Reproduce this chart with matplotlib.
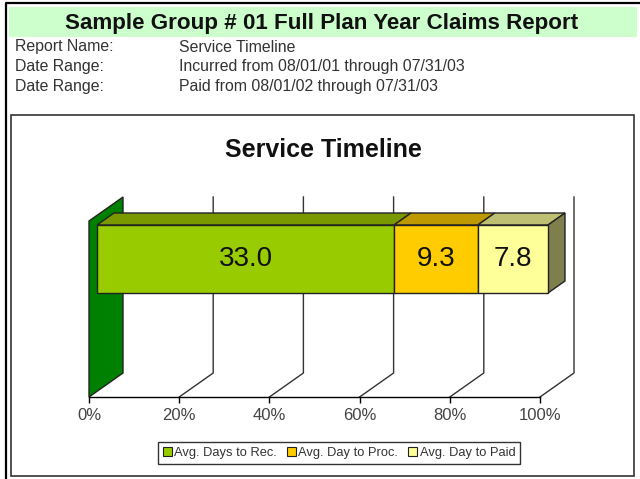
import matplotlib
matplotlib.use("Agg")
import matplotlib.pyplot as plt
from matplotlib.lines import Line2D
from matplotlib.patches import Polygon, Rectangle

plt.rcParams['font.family'] = ['Liberation Sans', 'DejaVu Sans']

report_title = "Sample Group # 01 Full Plan Year Claims Report"
info_names = ["Report Name:", "Date Range:", "Date Range:"]
info_values = ["Service Timeline",
               "Incurred from 08/01/01 through 07/31/03",
               "Paid from 08/01/02 through 07/31/03"]
chart_title = "Service Timeline"
categories = ["Avg. Days to Rec.", "Avg. Day to Proc.", "Avg. Day to Paid"]
days = [33.0, 9.3, 7.8]
ticks = [0, 20, 40, 60, 80, 100]

front_colors = ["#99CC00", "#FFCC00", "#FFFF99"]
top_colors = ["#7A9900", "#BF9900", "#BFBF73"]
side_color = "#7F7F4D"
EDGE = "#222222"

W, H = 640, 479
fig = plt.figure(figsize=(W / 100, H / 100), dpi=100)


def fx(px):
    return px / W


def fy(px):
    return 1 - px / H


# page furniture, in pixels from the top left
fig.add_artist(Line2D([fx(5.5), fx(5.5), 1], [0, fy(3), fy(3)], color="black", lw=1.6,
                      transform=fig.transFigure, zorder=-3))
fig.add_artist(Rectangle((fx(9), fy(37)), fx(628), 30 / H, fc="#CCFFCC", ec="none",
                         transform=fig.transFigure, zorder=-2))
fig.add_artist(Rectangle((fx(11), fy(476)), fx(623), 361 / H, fc="white", ec="#333333", lw=1.2,
                         transform=fig.transFigure, zorder=-2))
fig.text(fx(322), fy(23), report_title, ha="center", va="center", fontsize=16.1, fontweight="bold",
         color="#111111")
for i in range(3):
    y = fy(47 + i * 20)
    fig.text(fx(15), y, info_names[i], va="center", fontsize=11.4, color="#333333")
    fig.text(fx(179), y, info_values[i], va="center", fontsize=11.4, color="#333333")
fig.text(fx(323), fy(150), chart_title, ha="center", va="center", fontsize=18, fontweight="bold",
         color="#111111")

# axis covers the floor front edge; y is pixels above the floor
ax = fig.add_axes([fx(89), fy(397), 451 / W, 200 / H])
ax.set_xlim(0, 100)
ax.set_ylim(0, 200)
ax.patch.set_visible(False)
for s in ["top", "left", "right"]:
    ax.spines[s].set_visible(False)
ax.spines["bottom"].set_linewidth(1.0)
ax.set_yticks([])
ax.set_xticks(ticks)
ax.set_xticklabels([str(t) + "%" for t in ticks], fontsize=12, color="#444444")
ax.tick_params(axis="x", length=4, width=1.0, pad=4)

depth_x = 34 / 4.51
depth_y = 24
wall_top = 176

# grid lines run back along the floor and up the back wall
for t in ticks[1:]:
    ax.plot([t, t + depth_x, t + depth_x], [0, depth_y, 200], color="#333333", lw=1.0,
            clip_on=False, zorder=1)

# left wall
ax.add_patch(Polygon([(0, 0), (depth_x, depth_y), (depth_x, 200), (0, wall_top)], closed=True,
                     fc="#008000", ec=EDGE, lw=1.0, clip_on=False, zorder=2))

# stacked bar
bar_x = 8 / 4.51
bar_dx = 17 / 4.51
bar_dy = 12
bar_low = 104
bar_high = 172
total = sum(days)
left = 0
handles = []
for i in range(len(days)):
    width = days[i] / total * 100
    x0 = left + bar_x
    x1 = x0 + width
    ax.add_patch(Polygon([(x0, bar_high), (x1, bar_high), (x1 + bar_dx, bar_high + bar_dy),
                          (x0 + bar_dx, bar_high + bar_dy)], closed=True,
                         fc=top_colors[i], ec=EDGE, lw=1.0, clip_on=False, zorder=3))
    ax.add_patch(Rectangle((x0, bar_low), width, bar_high - bar_low, fc=front_colors[i], ec=EDGE,
                           lw=1.0, clip_on=False, zorder=4))
    ax.text((x0 + x1) / 2, (bar_low + bar_high) / 2, "%.1f" % days[i], ha="center", va="center",
            fontsize=20, color="#111111", zorder=5)
    handles.append(Rectangle((0, 0), 1, 1, fc=front_colors[i], ec=EDGE, lw=0.8))
    left += width
ax.add_patch(Polygon([(x1, bar_low), (x1 + bar_dx, bar_low + bar_dy), (x1 + bar_dx, bar_high + bar_dy),
                      (x1, bar_high)], closed=True, fc=side_color, ec=EDGE, lw=1.0, clip_on=False,
                     zorder=3))

fig.legend(handles, categories, ncol=3, loc="center", bbox_to_anchor=(fx(339), fy(453)), fontsize=9.3,
           fancybox=False, framealpha=1, edgecolor="#333333", handlelength=0.7, handleheight=0.7,
           handletextpad=0.2, columnspacing=0.75, borderpad=0.4, borderaxespad=0, labelcolor="#333333",
           ).get_frame().set_linewidth(1.0)

fig.savefig("out.png", dpi=100)
